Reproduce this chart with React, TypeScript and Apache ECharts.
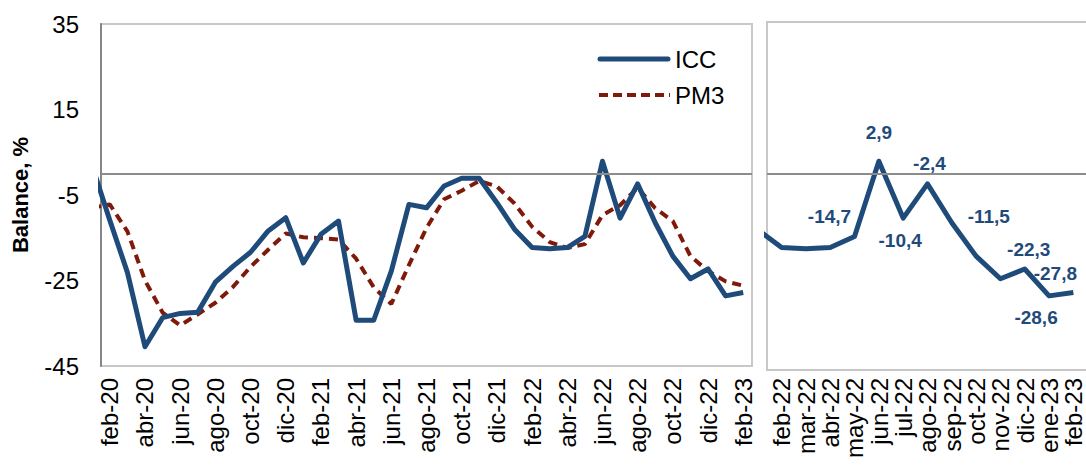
import React, { useEffect, useRef } from "react";
import * as echarts from "echarts";

// Months shown on the left panel (feb-20 .. feb-23)
const monthsLeft = [
  "feb-20", "mar-20", "abr-20", "may-20", "jun-20", "jul-20", "ago-20", "sep-20", "oct-20", "nov-20", "dic-20",
  "ene-21", "feb-21", "mar-21", "abr-21", "may-21", "jun-21", "jul-21", "ago-21", "sep-21", "oct-21", "nov-21", "dic-21",
  "ene-22", "feb-22", "mar-22", "abr-22", "may-22", "jun-22", "jul-22", "ago-22", "sep-22", "oct-22", "nov-22", "dic-22",
  "ene-23", "feb-23",
];

// Months shown on the right panel (feb-22 .. feb-23)
const monthsRight = [
  "feb-22", "mar-22", "abr-22", "may-22", "jun-22", "jul-22", "ago-22", "sep-22", "oct-22", "nov-22", "dic-22",
  "ene-23", "feb-23",
];

// ICC values, ene-20 .. feb-23 (ene-20 lies just outside the visible range)
const iccValues = [
  1.8, -10.9, -23.1, -40.5, -33.7, -32.7, -32.4, -25.4, -21.7, -18.4, -13.4, -10.3,
  -20.9, -14.2, -11.1, -34.3, -34.3, -22.8, -7.2, -8.0, -2.9, -1.1, -1.1, -6.8,
  -13.0, -17.3, -17.6, -17.3, -14.7, 2.9, -10.4, -2.4, -11.5, -19.3, -24.6, -22.3,
  -28.6, -27.8,
];

// PM3 values, ene-20 .. feb-23
const pm3Values = [
  -8.0, -7.2, -13.5, -25.0, -32.5, -35.5, -32.9, -30.2, -26.5, -21.8, -17.8, -14.0,
  -14.9, -15.1, -15.4, -19.9, -26.6, -30.5, -21.4, -12.7, -6.0, -4.0, -1.7, -3.0,
  -7.0, -12.4, -16.0, -17.4, -16.5, -9.7, -7.4, -3.3, -8.1, -11.1, -19.3, -22.8,
  -25.2, -26.2,
];

// Y-axis ticks
const yMin = -45;
const yMax = 35;
const yStep = 20;

const seriesNames = ["ICC", "PM3"];

// Data-label placement (style, not data): offsets in px from the point
const labelOffsets: Record<string, [number, number]> = {
  "may-22": [-25, -20],
  "jun-22": [0, -29],
  "jul-22": [-3, 22],
  "ago-22": [2, -20],
  "sep-22": [37, -6],
  "dic-22": [4, -19],
  "ene-23": [-13, 22],
  "feb-23": [-18, -19],
};

const ICC_COLOR = "#1F4B7B";
const PM3_COLOR = "#7F1A0B";
const FONT = "'Liberation Sans', Arial, sans-serif";

// month index: feb-20 = 0, so ene-20 = -1
const allMonths = ["ene-20", ...monthsLeft];

export default function App() {
  const ref = useRef<HTMLDivElement>(null);

  useEffect(() => {
    if (!ref.current) return;
    const chart = echarts.init(ref.current, undefined, { renderer: "svg" });

    const iccLeft = iccValues.map((v, i) => [i - 1, v]);
    const pm3Left = pm3Values.map((v, i) => [i - 1, v]);
    const startRight = allMonths.indexOf("ene-22");
    const iccRight = iccValues.slice(startRight).map((v, k) => {
      const i = startRight + k;
      const m = allMonths[i];
      const off = labelOffsets[m];
      if (off) {
        return { value: [i - 1, v], label: { show: true, offset: off } };
      }
      return { value: [i - 1, v] };
    });

    const zeroLine = {
      silent: true,
      symbol: ["none", "none"],
      label: { show: false },
      lineStyle: { color: "#8C8C8C", width: 2, type: "solid" },
      data: [{ yAxis: 0 }],
    };

    const catAxisLabel = {
      rotate: 90,
      fontSize: 24,
      color: "#000",
      margin: 12,
      fontFamily: FONT,
    };

    const hiddenY = {
      type: "value",
      min: yMin,
      max: yMax,
      interval: yStep,
      axisLine: { show: false, onZero: false },
      axisTick: { show: false },
      splitLine: { show: false },
      axisLabel: { show: false },
    };

    chart.setOption({
      animation: false,
      textStyle: { fontFamily: FONT },
      grid: [
        { left: 101, top: 24, width: 651, height: 342 },
        { left: 767, top: 24, width: 320, height: 342 },
        { left: 769.5, top: 24, width: 317.2, height: 342 },
      ],
      xAxis: [
        { gridIndex: 0, type: "value", min: -0.5, max: 36.5, show: false, position: "top" },
        {
          gridIndex: 0,
          type: "category",
          position: "bottom",
          data: monthsLeft,
          boundaryGap: true,
          axisLine: { show: false, onZero: false },
          axisTick: { show: false },
          axisLabel: { ...catAxisLabel, interval: 1 },
        },
        { gridIndex: 1, type: "value", min: 23.4, max: 36.52, show: false, position: "top" },
        {
          gridIndex: 2,
          type: "category",
          position: "bottom",
          data: monthsRight,
          boundaryGap: true,
          axisLine: { show: false, onZero: false },
          axisTick: { show: false },
          axisLabel: { ...catAxisLabel, interval: 0 },
        },
      ],
      yAxis: [
        {
          gridIndex: 0,
          type: "value",
          min: yMin,
          max: yMax,
          interval: yStep,
          name: "Balance, %",
          nameLocation: "middle",
          nameRotate: 90,
          nameGap: 70,
          nameTextStyle: { fontSize: 22, fontWeight: "bold", color: "#000", fontFamily: FONT },
          axisLine: { show: true, onZero: false, lineStyle: { color: "#868686", width: 2 } },
          axisTick: { show: false },
          splitLine: { show: false },
          axisLabel: { fontSize: 24, color: "#000", margin: 22, fontFamily: FONT },
        },
        { gridIndex: 1, ...hiddenY },
        { gridIndex: 2, ...hiddenY },
      ],
      graphic: [
        {
          type: "rect",
          z: 0,
          shape: { x: 101, y: 24, width: 651, height: 342 },
          style: { fill: "none", stroke: "#C8C8C8", lineWidth: 2 },
          silent: true,
        },
        {
          type: "rect",
          z: 0,
          shape: { x: 767, y: 22, width: 330, height: 348 },
          style: { fill: "none", stroke: "#C8C8C8", lineWidth: 2 },
          silent: true,
        },
        {
          type: "line",
          z: 10,
          shape: { x1: 600, y1: 59, x2: 668, y2: 59 },
          style: { stroke: ICC_COLOR, lineWidth: 5, lineCap: "round" },
          silent: true,
        },
        {
          type: "text",
          z: 10,
          x: 675,
          y: 59,
          style: {
            text: seriesNames[0],
            fill: "#000",
            font: `24px ${FONT}`,
            verticalAlign: "middle",
            align: "left",
          },
          silent: true,
        },
        {
          type: "line",
          z: 10,
          shape: { x1: 599, y1: 95, x2: 670, y2: 95 },
          style: { stroke: PM3_COLOR, lineWidth: 4, lineDash: [9, 5] },
          silent: true,
        },
        {
          type: "text",
          z: 10,
          x: 675,
          y: 95,
          style: {
            text: seriesNames[1],
            fill: "#000",
            font: `24px ${FONT}`,
            verticalAlign: "middle",
            align: "left",
          },
          silent: true,
        },
      ],
      series: [
        {
          name: seriesNames[1],
          type: "line",
          xAxisIndex: 0,
          yAxisIndex: 0,
          data: pm3Left,
          showSymbol: false,
          symbol: "none",
          clip: true,
          color: PM3_COLOR,
          lineStyle: { color: PM3_COLOR, width: 4, type: [9, 6] },
          z: 2,
        },
        {
          name: seriesNames[0],
          type: "line",
          xAxisIndex: 0,
          yAxisIndex: 0,
          data: iccLeft,
          showSymbol: false,
          symbol: "none",
          clip: true,
          color: ICC_COLOR,
          lineStyle: { color: ICC_COLOR, width: 5, join: "round" },
          markLine: zeroLine,
          z: 3,
        },
        {
          name: seriesNames[0],
          type: "line",
          xAxisIndex: 2,
          yAxisIndex: 1,
          data: iccRight,
          showSymbol: true,
          symbol: "circle",
          symbolSize: 1,
          clip: true,
          color: ICC_COLOR,
          itemStyle: { color: "rgba(0,0,0,0)" },
          lineStyle: { color: ICC_COLOR, width: 5, join: "round" },
          label: {
            show: false,
            position: "inside",
            align: "center",
            verticalAlign: "middle",
            fontSize: 19,
            fontWeight: "bold",
            color: ICC_COLOR,
            fontFamily: FONT,
            formatter: (p: any) => Number(p.value[1]).toFixed(1).replace(".", ","),
          },
          markLine: zeroLine,
          z: 3,
        },
      ],
    });

    return () => chart.dispose();
  }, []);

  return (
    <div
      ref={ref}
      style={{ position: "absolute", left: 0, top: 0, width: 1086, height: 466 }}
    />
  );
}
